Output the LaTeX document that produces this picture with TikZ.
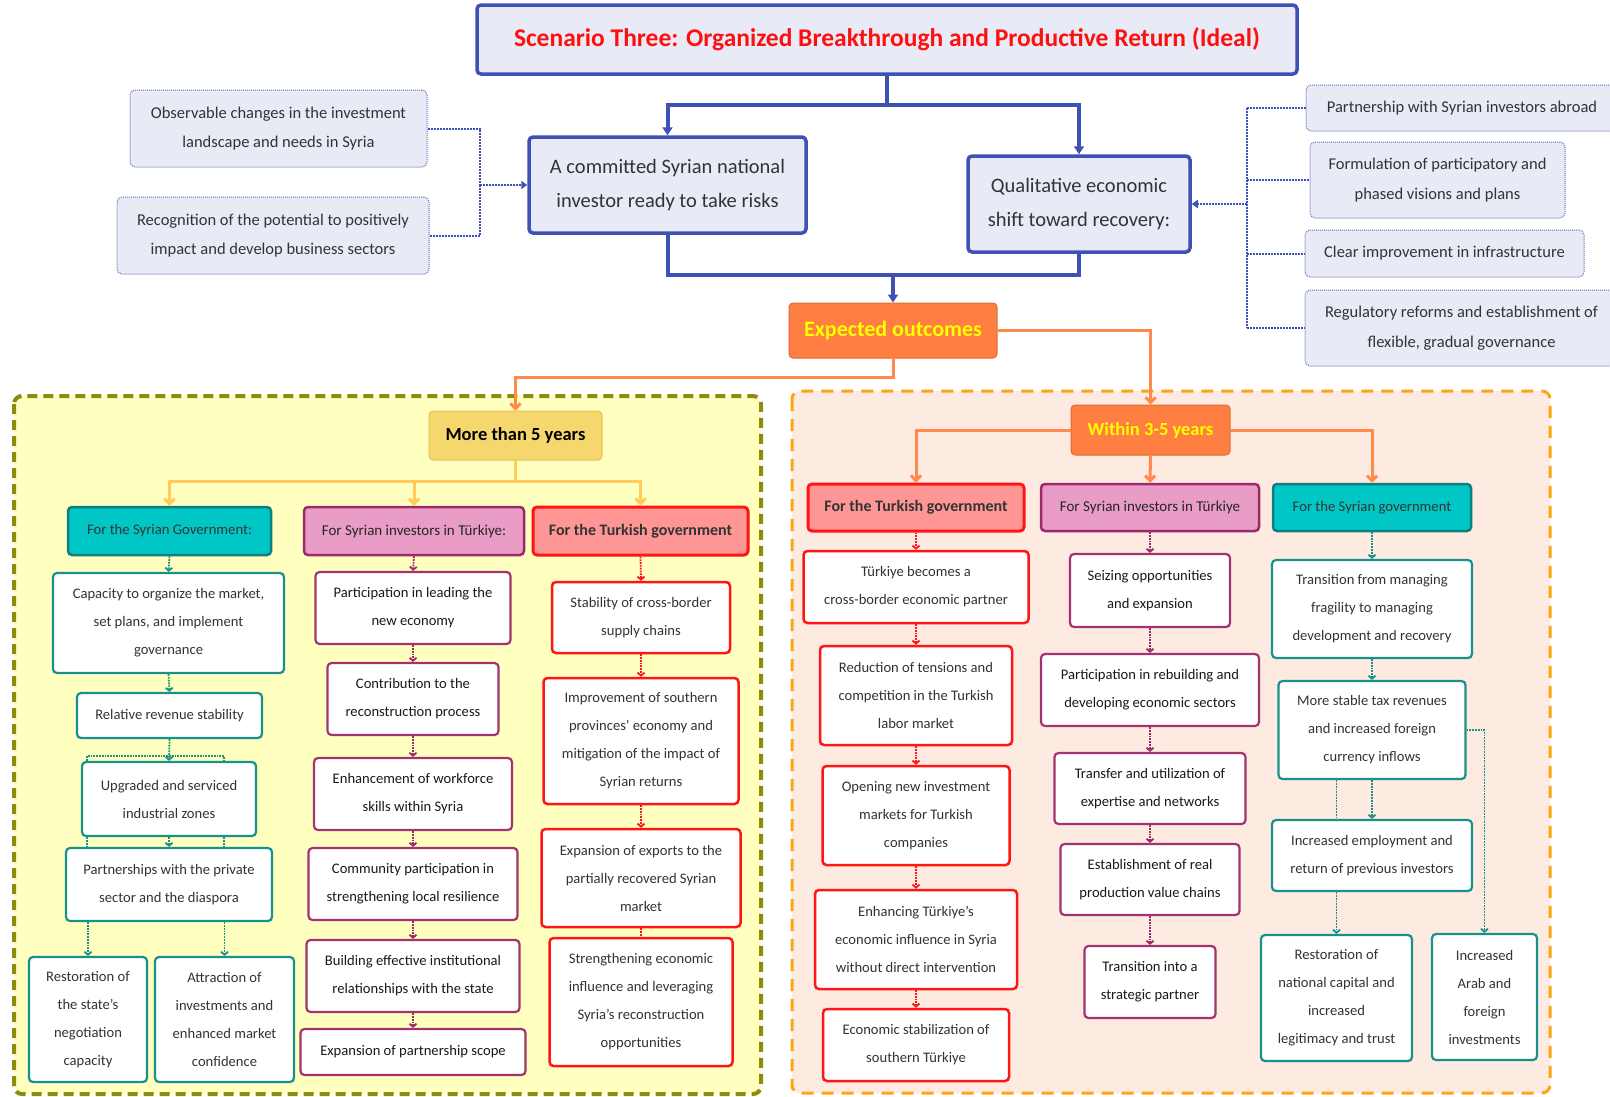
\documentclass[tikz,border=0pt]{standalone}
\usepackage{fontspec}
\setmainfont{Carlito}
\usetikzlibrary{arrows.meta}
\definecolor{mblue}{HTML}{3F51B5}
\definecolor{lav}{HTML}{E8EAF6}
\definecolor{dblue}{HTML}{6573C3}
\definecolor{ttl}{HTML}{FF1010}
\definecolor{orf}{HTML}{FF7F43}
\definecolor{ord}{HTML}{E06A30}
\definecolor{orl}{HTML}{FF8A4C}
\definecolor{yel}{HTML}{FFFF00}
\definecolor{yline}{HTML}{FFCC5C}
\definecolor{goldf}{HTML}{F5D76E}
\definecolor{goldd}{HTML}{E3C25A}
\definecolor{lyf}{HTML}{FFFFC0}
\definecolor{olive}{HTML}{8C8C0C}
\definecolor{peach}{HTML}{FDEAE0}
\definecolor{oranged}{HTML}{FFA515}
\definecolor{tealf}{HTML}{00C6C6}
\definecolor{teald}{HTML}{0E7E7E}
\definecolor{tealb}{HTML}{17918A}
\definecolor{pinkf}{HTML}{E89CC6}
\definecolor{pinkd}{HTML}{9C2A6A}
\definecolor{pinkb}{HTML}{A3336F}
\definecolor{redf}{HTML}{FF9696}
\definecolor{redd}{HTML}{FF1515}
\definecolor{txt}{HTML}{333333}
\tikzset{
  every node/.style={align=center, inner sep=2pt, text=txt},
  titlebox/.style={draw=mblue, line width=3.5pt, rounded corners=4pt, fill=lav,
    font=\fontsize{25.5}{30}\selectfont\bfseries, text=ttl},
  bigbox/.style={draw=mblue, line width=3.5pt, rounded corners=4pt, fill=lav,
    font=\fontsize{20.5}{34}\selectfont},
  dotbox/.style={draw=dblue, densely dotted, line width=1pt, rounded corners=5pt, fill=lav,
    font=\fontsize{16.5}{29.5}\selectfont},
  outbox/.style={draw=ord, line width=1pt, rounded corners=4pt, fill=orf,
    font=\fontsize{22}{26}\selectfont\bfseries, text=yel},
  goldbox/.style={draw=goldd, line width=1pt, rounded corners=4pt, fill=goldf,
    font=\fontsize{18.5}{22}\selectfont\bfseries, text=black},
  tealhead/.style={draw=teald, line width=2.5pt, rounded corners=4pt, fill=tealf,
    font=\fontsize{14.7}{18}\selectfont, text=txt},
  pinkhead/.style={draw=pinkd, line width=2.5pt, rounded corners=4pt, fill=pinkf,
    font=\fontsize{15}{18}\selectfont, text=black!85},
  redhead/.style={draw=redd, line width=3pt, rounded corners=4pt, fill=redf,
    font=\fontsize{16}{18}\selectfont\bfseries, text=txt},
  tealbox/.style={draw=tealb, line width=2.2pt, rounded corners=4pt, fill=white,
    font=\fontsize{14.6}{28}\selectfont, text=txt},
  pinkbox/.style={draw=pinkb, line width=2.2pt, rounded corners=4pt, fill=white,
    font=\fontsize{14.6}{28}\selectfont, text=black!90},
  redbox/.style={draw=redd, line width=2.5pt, rounded corners=4pt, fill=white,
    font=\fontsize{14.6}{28}\selectfont, text=txt},
  bline/.style={draw=mblue, line width=4pt},
  barrow/.style={bline, -{Triangle[length=8pt,width=10pt]}},
  bdot/.style={draw=mblue, densely dotted, line width=2pt},
  bdotarrow/.style={bdot, -{Triangle[length=6pt,width=8pt]}},
  oline/.style={draw=orl, line width=3pt},
  oarrow/.style={oline, -{Straight Barb[length=5pt,width=10pt]}},
  yline/.style={draw=yline, line width=3pt},
  yarrow/.style={yline, -{Straight Barb[length=5pt,width=10pt]}},
  tdotl/.style={draw=tealb, densely dotted, line width=1.8pt},
  tdot/.style={tdotl, -{Straight Barb[length=3pt,width=7pt]}},
  pdotl/.style={draw=pinkd, densely dotted, line width=1.8pt},
  pdot/.style={pdotl, -{Straight Barb[length=3pt,width=7pt]}},
  rdotl/.style={draw=redd, densely dotted, line width=1.8pt},
  rdot/.style={rdotl, -{Straight Barb[length=3pt,width=7pt]}},
}
\begin{document}
\begin{tikzpicture}[x=1pt,y=-1pt]
\useasboundingbox (0,0) rectangle (1610,1096);
\fill[white] (0,0) rectangle (1610,1096);

% regions
\draw[fill=lyf, draw=olive, line width=4pt, dash pattern=on 10pt off 6pt, rounded corners=8pt]
  (14,396) rectangle (761,1094);
\draw[fill=peach, draw=oranged, line width=3pt, dash pattern=on 12pt off 8pt, rounded corners=8pt]
  (792,391) rectangle (1550,1093);

% top part
\node[titlebox, minimum width=820pt, minimum height=69pt] (T) at (887,39.5)
  {Scenario Three: Organized Breakthrough and Productive Return (Ideal)};
\node[bigbox, minimum width=277pt, minimum height=96pt] (A) at (667.5,185)
  {A committed Syrian national\\investor ready to take risks};
\node[bigbox, minimum width=222pt, minimum height=96pt] (Q) at (1079,204)
  {Qualitative economic\\shift toward recovery:};
\node[outbox, minimum width=208pt, minimum height=55pt] (O) at (893,330.5) {Expected outcomes};

\node[dotbox, minimum width=297pt, minimum height=77pt] (Obs) at (278.5,128.5)
  {Observable changes in the investment\\landscape and needs in Syria};
\node[dotbox, minimum width=312pt, minimum height=77pt] (Rec) at (273,235.5)
  {Recognition of the potential to positively\\impact and develop business sectors};

\node[dotbox, minimum width=312pt, minimum height=46pt] (P1) at (1462,108)
  {Partnership with Syrian investors abroad};
\node[dotbox, minimum width=255pt, minimum height=76pt] (P2) at (1437.5,180)
  {Formulation of participatory and\\phased visions and plans};
\node[dotbox, minimum width=279pt, minimum height=47pt] (P3) at (1444.5,253.5)
  {Clear improvement in infrastructure};
\node[dotbox, minimum width=313pt, minimum height=76pt] (P4) at (1461.5,328)
  {Regulatory reforms and establishment of\\flexible, gradual governance};

% blue connectors
\coordinate (tj) at (887,105);
\draw[bline] (T.south) -- (tj);
\draw[barrow] (tj) -| (A.north);
\draw[barrow] (tj) -| (Q.north);
\coordinate (bj) at (893,275);
\draw[bline] (A.south) |- (bj);
\draw[bline] (Q.south) |- (bj);
\draw[barrow] (bj) -- (O.north);

% dotted blue
\coordinate (lj) at (480,185);
\draw[bdot] (Obs.east) -| (lj);
\draw[bdot] (Rec.east) -| (lj);
\draw[bdotarrow] (lj) -- (A.west);
\coordinate (rj) at (1247,204);
\coordinate (rtop) at (1247,108);
\coordinate (rbot) at (1247,328);
\draw[bdot] (rtop) -- (rbot);
\draw[bdot] (rtop) -- (P1.west);
\draw[bdot] (P2.west -| rj) -- (P2.west);
\draw[bdot] (P3.west -| rj) -- (P3.west);
\draw[bdot] (rbot) -- (P4.west);
\draw[bdotarrow] (rj) -- (Q.east);

% time-frame boxes
\node[goldbox, minimum width=173pt, minimum height=49pt] (M5) at (515.5,435.5) {More than 5 years};
\node[outbox, font=\fontsize{18.5}{22}\selectfont\bfseries, minimum width=159pt, minimum height=50pt] (W35) at (1150.5,430) {Within 3-5 years};

\coordinate (oj) at (700,377);
\draw[oarrow] (O.south) |- (oj) -| (M5.north);
\draw[oarrow] (O.east) -| (W35.north);

% left region headers
\node[tealhead, minimum width=203pt, minimum height=48pt] (LG) at (169.5,531) {For the Syrian Government:};
\node[pinkhead, minimum width=220pt, minimum height=48pt] (LI) at (414,531) {For Syrian investors in Türkiye:};
\node[redhead, minimum width=215pt, minimum height=48pt] (LT) at (640.5,531) {For the Turkish government};

\coordinate (yj) at (515.5,481);
\draw[yline] (M5.south) -- (yj);
\draw[yarrow] (yj) -| (LG.north);
\draw[yarrow] (yj) -| (LI.north);
\draw[yarrow] (yj) -| (LT.north);

% left teal column
\node[tealbox, minimum width=231pt, minimum height=100pt] (g1) at (168.5,623)
  {Capacity to organize the market,\\set plans, and implement\\governance};
\node[tealbox, minimum width=185pt, minimum height=45pt] (g2) at (169.5,715.5)
  {Relative revenue stability};
\node[tealbox, minimum width=174pt, minimum height=74pt] (g3) at (169,799)
  {Upgraded and serviced\\industrial zones};
\node[tealbox, minimum width=206pt, minimum height=73pt] (g4) at (169,884.5)
  {Partnerships with the private\\sector and the diaspora};
\node[tealbox, minimum width=118pt, minimum height=125pt] (g5) at (88,1019.5)
  {Restoration of\\the state’s\\negotiation\\capacity};
\node[tealbox, minimum width=139pt, minimum height=125pt] (g6) at (224.5,1019.5)
  {Attraction of\\investments and\\enhanced market\\confidence};

\draw[tdot] (LG.south) -- (g1.north);
\draw[tdot] (g1.south) -- (g2.north);
\draw[tdot] (g2.south) -- (g3.north);
\coordinate (h1) at (87,756);
\coordinate (h2) at (224,756);
\draw[tdotl] (g3.north -| h1) |- (h2) -- (g3.north -| h2);
\draw[tdot] (g3.south) -- (g4.north);
\draw[tdotl] (g3.south -| h1) -- (g4.north -| h1);
\draw[tdotl] (g3.south -| h2) -- (g4.north -| h2);
\draw[tdot] (g4.south -| g5.north) -- (g5.north);
\draw[tdot] (g4.south -| g6.north) -- (g6.north);

% left pink column
\node[pinkbox, minimum width=195pt, minimum height=72pt] (i1) at (413,608)
  {Participation in leading the\\new economy};
\node[pinkbox, minimum width=171pt, minimum height=72pt] (i2) at (413,699)
  {Contribution to the\\reconstruction process};
\node[pinkbox, minimum width=198pt, minimum height=72pt] (i3) at (413,794)
  {Enhancement of workforce\\skills within Syria};
\node[pinkbox, minimum width=209pt, minimum height=72pt] (i4) at (413,884)
  {Community participation in\\strengthening local resilience};
\node[pinkbox, minimum width=213pt, minimum height=72pt] (i5) at (413,976)
  {Building effective institutional\\relationships with the state};
\node[pinkbox, minimum width=225pt, minimum height=46pt] (i6) at (413,1052)
  {Expansion of partnership scope};
\draw[pdot] (LI.south) -- (i1.north);
\draw[pdot] (i1.south) -- (i2.north);
\draw[pdot] (i2.south) -- (i3.north);
\draw[pdot] (i3.south) -- (i4.north);
\draw[pdot] (i4.south) -- (i5.north);
\draw[pdot] (i5.south) -- (i6.north);

% left red column
\node[redbox, minimum width=178pt, minimum height=71pt] (t1) at (641,617.5)
  {Stability of cross-border\\supply chains};
\node[redbox, minimum width=195pt, minimum height=126pt] (t2) at (641,741)
  {Improvement of southern\\provinces’ economy and\\mitigation of the impact of\\Syrian returns};
\node[redbox, minimum width=199pt, minimum height=98pt] (t3) at (641,878)
  {Expansion of exports to the\\partially recovered Syrian\\market};
\node[redbox, minimum width=183pt, minimum height=128pt] (t4) at (641,1002)
  {Strengthening economic\\influence and leveraging\\Syria’s reconstruction\\opportunities};
\draw[rdot] (LT.south) -- (t1.north);
\draw[rdot] (t1.south) -- (t2.north);
\draw[rdot] (t2.south) -- (t3.north);
\draw[rdotl] (t3.south) -- (t4.north);

% right region headers
\node[redhead, minimum width=216pt, minimum height=47pt] (RT) at (916,507.5) {For the Turkish government};
\node[pinkhead, minimum width=218pt, minimum height=47pt] (RI) at (1150,507.5) {For Syrian investors in Türkiye};
\node[tealhead, minimum width=198pt, minimum height=47pt] (RS) at (1372,507.5) {For the Syrian government};
\draw[oarrow] (W35.west) -| (RT.north);
\draw[oarrow] (W35.east) -| (RS.north);
\draw[oarrow] (W35.south) -- (RI.north);

% right red column
\node[redbox, minimum width=225pt, minimum height=72pt] (r1) at (916,587)
  {Türkiye becomes a\\cross-border economic partner};
\node[redbox, minimum width=192pt, minimum height=99pt] (r2) at (916,695.5)
  {Reduction of tensions and\\competition in the Turkish\\labor market};
\node[redbox, minimum width=187pt, minimum height=99pt] (r3) at (916,815.5)
  {Opening new investment\\markets for Turkish\\companies};
\node[redbox, minimum width=202pt, minimum height=99pt] (r4) at (916,939.5)
  {Enhancing Türkiye’s\\economic influence in Syria\\without direct intervention};
\node[redbox, minimum width=186pt, minimum height=72pt] (r5) at (916,1045)
  {Economic stabilization of\\southern Türkiye};
\draw[rdot] (RT.south) -- (r1.north);
\draw[rdot] (r1.south) -- (r2.north);
\draw[rdot] (r2.south) -- (r3.north);
\draw[rdot] (r3.south) -- (r4.north);
\draw[rdot] (r4.south) -- (r5.north);

% right pink column
\node[pinkbox, minimum width=160pt, minimum height=73pt] (p1) at (1150,590.5)
  {Seizing opportunities\\and expansion};
\node[pinkbox, minimum width=218pt, minimum height=72pt] (p2) at (1150,690)
  {Participation in rebuilding and\\developing economic sectors};
\node[pinkbox, minimum width=191pt, minimum height=71pt] (p3) at (1150,788.5)
  {Transfer and utilization of\\expertise and networks};
\node[pinkbox, minimum width=179pt, minimum height=71pt] (p4) at (1150,879.5)
  {Establishment of real\\production value chains};
\node[pinkbox, minimum width=131pt, minimum height=72pt] (p5) at (1150,982)
  {Transition into a\\strategic partner};
\draw[pdot] (RI.south) -- (p1.north);
\draw[pdot] (p1.south) -- (p2.north);
\draw[pdot] (p2.south) -- (p3.north);
\draw[pdot] (p3.south) -- (p4.north);
\draw[pdot] (p4.south) -- (p5.north);

% right teal column
\node[tealbox, minimum width=200pt, minimum height=98pt] (s1) at (1372,609)
  {Transition from managing\\fragility to managing\\development and recovery};
\node[tealbox, minimum width=187pt, minimum height=98pt] (s2) at (1372,730)
  {More stable tax revenues\\and increased foreign\\currency inflows};
\node[tealbox, minimum width=200pt, minimum height=71pt] (s3) at (1372,855.5)
  {Increased employment and\\return of previous investors};
\node[tealbox, minimum width=151pt, minimum height=126pt] (s4) at (1336.5,998)
  {Restoration of\\national capital and\\increased\\legitimacy and trust};
\node[tealbox, minimum width=105pt, minimum height=126pt] (s5) at (1484.5,997)
  {Increased\\Arab and\\foreign\\investments};
\draw[tdot] (RS.south) -- (s1.north);
\draw[tdot] (s1.south) -- (s2.north);
\draw[tdot] (s2.south) -- (s3.north);
\draw[tdotl] (s2.south -| s4.north) -- (s3.north -| s4.north);
\draw[tdot] (s3.south -| s4.north) -- (s4.north);
\draw[tdot] (s2.east) -| (s5.north);

\end{tikzpicture}
\end{document}
